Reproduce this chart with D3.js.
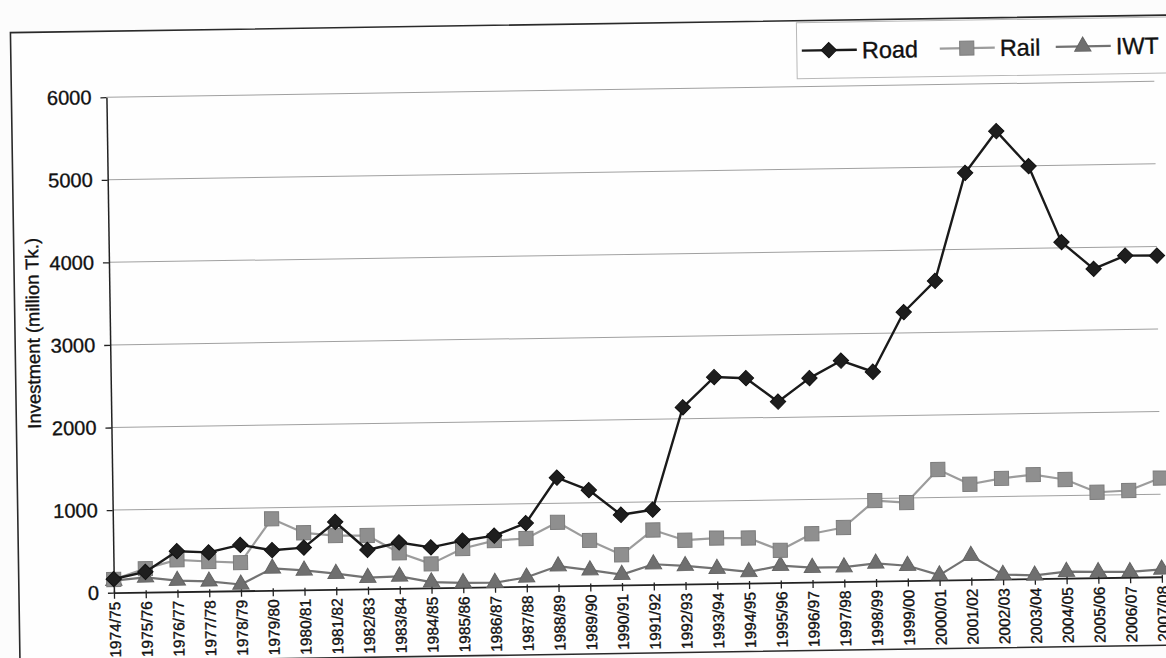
<!DOCTYPE html>
<html>
<head>
<meta charset="utf-8">
<script src="https://cdn.jsdelivr.net/npm/d3@7"></script>
<style>
  html, body { margin: 0; padding: 0; background: #fcfcfc; }
  svg { display: block; font-family: "Liberation Sans", Arial, sans-serif; }
  svg text { stroke: #111; stroke-width: 0.35px; }
</style>
</head>
<body>
<svg id="chart" width="1166" height="658"></svg>
<script>
// Fiscal years
const categories = [
  "1974/75","1975/76","1976/77","1977/78","1978/79","1979/80","1980/81","1981/82",
  "1982/83","1983/84","1984/85","1985/86","1986/87","1987/88","1988/89","1989/90",
  "1990/91","1991/92","1992/93","1993/94","1994/95","1995/96","1996/97","1997/98",
  "1998/99","1999/00","2000/01","2001/02","2002/03","2003/04","2004/05","2005/06",
  "2006/07","2007/08"
];

// Investment, million Tk.
const road = [165, 245, 490, 470, 555, 485, 510, 815, 470, 555, 490, 565, 620, 765,
  1310, 1155, 850, 905, 2140, 2500, 2480, 2190, 2470, 2675, 2535, 3250, 3625, 4925,
  5425, 4995, 4070, 3740, 3895, 3890];
const rail = [160, 285, 385, 360, 340, 865, 690, 650, 645, 430, 290, 470, 560, 580,
  770, 545, 365, 660, 530, 550, 545, 390, 585, 655, 975, 945, 1340, 1155, 1220, 1260,
  1195, 1035, 1050, 1195];
const iwt = [145, 180, 135, 120, 75, 265, 235, 190, 135, 145, 70, 55, 50, 110, 240,
  185, 125, 245, 220, 180, 135, 205, 175, 175, 215, 180, 60, 290, 55, 40, 80, 70, 65, 90];

const yTicks = [0, 1000, 2000, 3000, 4000, 5000, 6000];
const seriesNames = ["Road", "Rail", "IWT"];
const yTitle = "Investment (million Tk.)";

const svg = d3.select("#chart");
svg.append("rect").attr("width", 1166).attr("height", 658).attr("fill", "#fcfcfc");

// the printed page sits slightly tilted
const g = svg.append("g").attr("transform", "rotate(-0.87,583,329)");

// chart frame
g.append("rect")
  .attr("x", 15).attr("y", 24).attr("width", 1220).attr("height", 630)
  .attr("fill", "#fefefe").attr("stroke", "#2a2a2a").attr("stroke-width", 1.6);

const plotLeft = 110, plotRight = 1158, plotTop = 90, plotBottom = 585.5;
const x = d3.scalePoint().domain(categories).range([plotLeft, plotRight]);
const y = d3.scaleLinear().domain([0, 6000]).range([plotBottom, plotTop]);

// gridlines
g.append("g").selectAll("line")
  .data(yTicks.filter(d => d > 0))
  .join("line")
  .attr("x1", plotLeft).attr("x2", plotRight)
  .attr("y1", d => y(d)).attr("y2", d => y(d))
  .attr("stroke", "#a0a0a0").attr("stroke-width", 1);

// value axis
const yAxis = g.append("g")
  .attr("transform", `translate(${plotLeft},0)`)
  .call(d3.axisLeft(y).tickValues(yTicks).tickFormat(d3.format("d"))
        .tickSize(6).tickSizeOuter(0).tickPadding(9));
yAxis.select(".domain").attr("stroke", "#222").attr("stroke-width", 1.5);
yAxis.selectAll(".tick line").attr("stroke", "#222").attr("stroke-width", 1.3);
yAxis.selectAll(".tick text")
  .attr("font-size", 20).attr("fill", "#111")
  .attr("font-family", "Liberation Sans, Arial, sans-serif");

// category axis
const xAxis = g.append("g")
  .attr("transform", `translate(0,${plotBottom})`)
  .call(d3.axisBottom(x).tickSize(6).tickSizeOuter(0));
xAxis.select(".domain").attr("stroke", "#222").attr("stroke-width", 1.8);
xAxis.selectAll(".tick line").attr("stroke", "#222").attr("stroke-width", 1.3)
  .attr("y1", -2);
xAxis.selectAll(".tick text")
  .attr("font-size", 15.5).attr("fill", "#111")
  .attr("font-family", "Liberation Sans, Arial, sans-serif")
  .attr("text-anchor", "end")
  .attr("transform", "rotate(-90)")
  .attr("x", -9).attr("y", 0).attr("dy", "0.36em");

// axis title
g.append("text")
  .attr("transform", "translate(33,325) rotate(-90)")
  .attr("text-anchor", "middle").attr("dominant-baseline", "central")
  .attr("font-size", 18.5).attr("fill", "#111")
  .text(yTitle);

const line = d3.line().x((d, i) => x(categories[i])).y(d => y(d));

const styles = {
  Road: { data: road, line: "#1a1a1a", width: 2.4, fill: "#1e1e1e", stroke: "#111",
          symbol: d3.symbol().type(d3.symbolSquare).size(118), rot: 45 },
  Rail: { data: rail, line: "#9c9c9c", width: 2.2, fill: "#8f8f8f", stroke: "#7c7c7c",
          symbol: d3.symbol().type(d3.symbolSquare).size(200), rot: 0 },
  IWT:  { data: iwt, line: "#727272", width: 2.2, fill: "#6f6f6f", stroke: "#636363",
          symbol: d3.symbol().type(d3.symbolTriangle).size(115), rot: 0 }
};

// draw IWT first, Road on top
["IWT", "Rail", "Road"].forEach(name => {
  const s = styles[name];
  g.append("path").datum(s.data)
    .attr("d", line).attr("fill", "none")
    .attr("stroke", s.line).attr("stroke-width", s.width)
    .attr("stroke-linejoin", "round");
  g.append("g").selectAll("path")
    .data(s.data)
    .join("path")
    .attr("d", s.symbol)
    .attr("transform", (d, i) => `translate(${x(categories[i])},${y(d)}) rotate(${s.rot})`)
    .attr("fill", s.fill).attr("stroke", s.stroke).attr("stroke-width", 1);
});

// legend
const lg = g.append("g");
lg.append("rect")
  .attr("x", 801).attr("y", 26).attr("width", 420).attr("height", 56)
  .attr("fill", "#fefefe").attr("stroke", "#b8b8b8").attr("stroke-width", 1);
const legendX = { Road: 806, Rail: 944, IWT: 1060 };
seriesNames.forEach(name => {
  const s = styles[name];
  const lx = legendX[name], ly = 54;
  lg.append("line")
    .attr("x1", lx).attr("x2", lx + 55).attr("y1", ly).attr("y2", ly)
    .attr("stroke", s.line).attr("stroke-width", s.width);
  lg.append("path")
    .attr("d", s.symbol)
    .attr("transform", `translate(${lx + 27},${ly}) rotate(${s.rot})`)
    .attr("fill", s.fill).attr("stroke", s.stroke).attr("stroke-width", 1);
  lg.append("text")
    .attr("x", lx + 60).attr("y", ly).attr("dy", "0.36em")
    .attr("font-size", 23.5).attr("fill", "#111")
    .text(name);
});
</script>
</body>
</html>
